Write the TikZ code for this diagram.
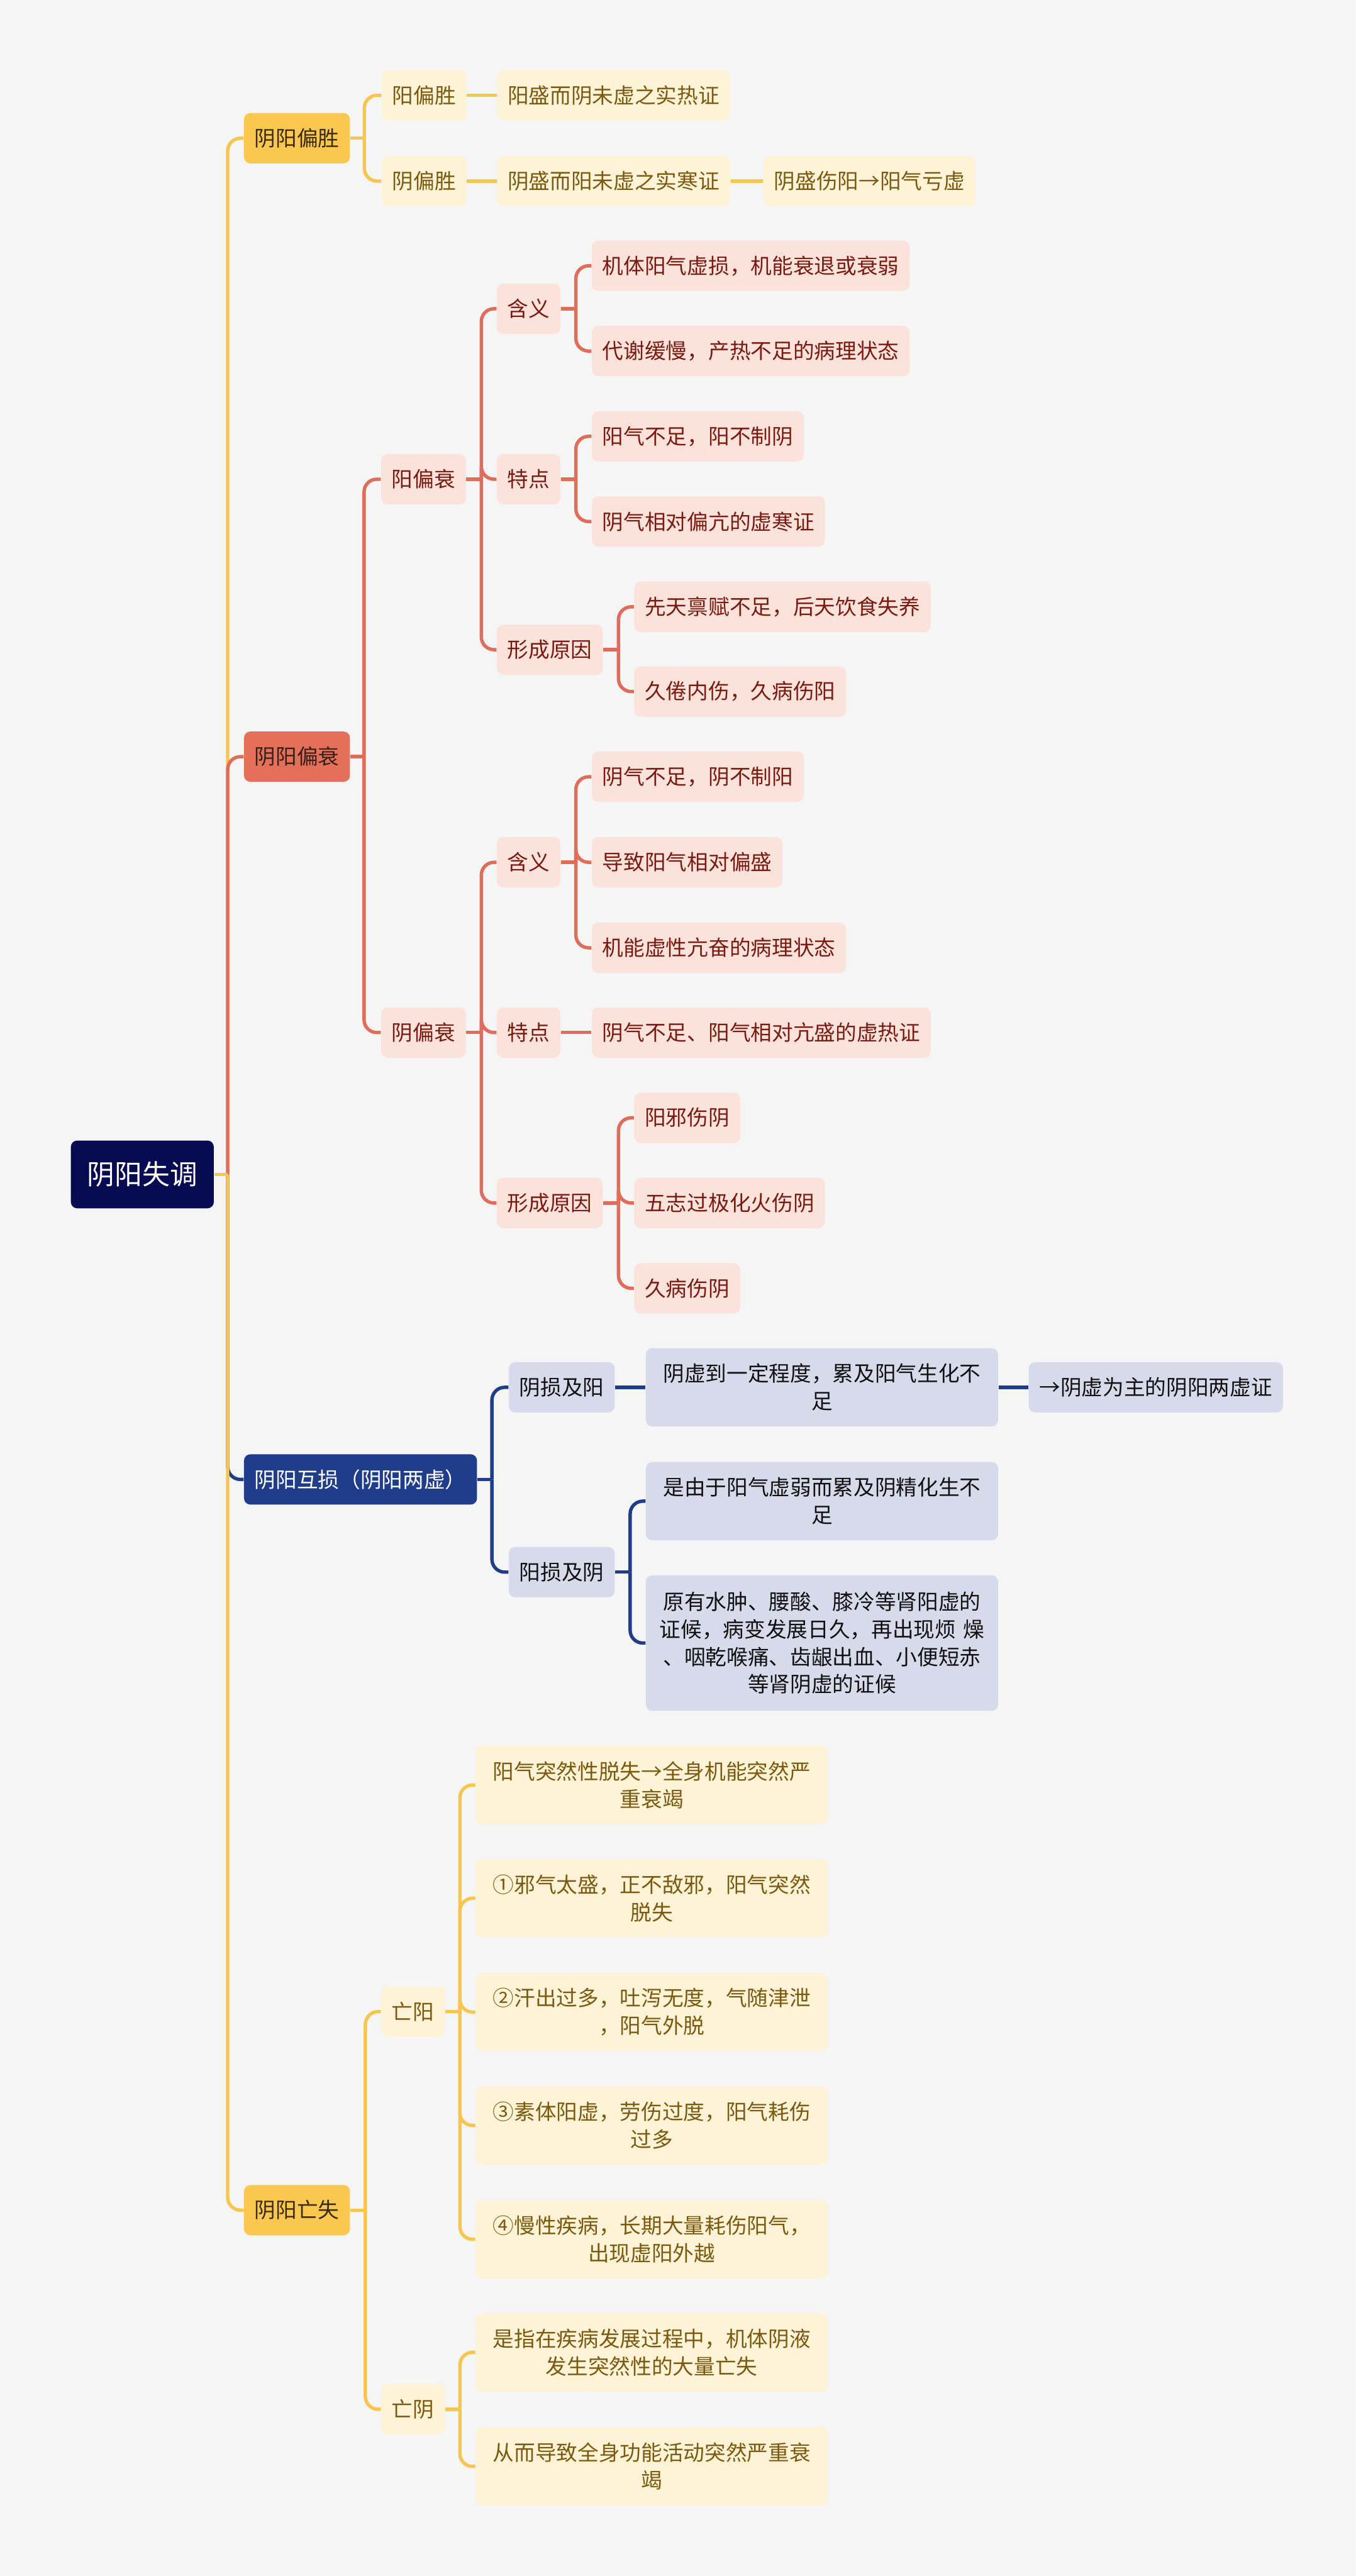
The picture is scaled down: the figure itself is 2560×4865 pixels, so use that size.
\documentclass[tikz,border=0pt]{standalone}
\usepackage{fontspec}
\newfontfamily\cjk{Noto Sans CJK SC}
\definecolor{bg}{HTML}{F5F5F5}
\definecolor{rootfill}{HTML}{070B52}
\definecolor{ylfill}{HTML}{FBC84F}
\definecolor{yltext}{HTML}{3A2A10}
\definecolor{crfill}{HTML}{FEF3D6}
\definecolor{crtext}{HTML}{7B5A10}
\definecolor{ylline}{HTML}{F8C64F}
\definecolor{rdfill}{HTML}{E4705A}
\definecolor{rdtext}{HTML}{3A1E1A}
\definecolor{pkfill}{HTML}{FBE3DC}
\definecolor{pktext}{HTML}{7A1A10}
\definecolor{rdline}{HTML}{E06D5A}
\definecolor{nvfill}{HTML}{1F3D8A}
\definecolor{lnfill}{HTML}{D6DAEA}
\definecolor{lntext}{HTML}{111111}
\definecolor{nvline}{HTML}{1F3D8A}
\tikzset{
  base/.style={rounded corners=3pt, inner xsep=5pt, inner ysep=0pt, minimum height=23.75pt,
    anchor=west, font=\cjk\fontsize{10pt}{13pt}\selectfont, align=center},
  rootbox/.style={base, fill=rootfill, text=white, minimum width=67.5pt, minimum height=32pt,
    font=\cjk\fontsize{13pt}{16pt}\selectfont},
  yone/.style={base, fill=ylfill, text=yltext},
  ytwo/.style={base, fill=crfill, text=crtext},
  rone/.style={base, fill=rdfill, text=rdtext},
  rtwo/.style={base, fill=pkfill, text=pktext},
  none/.style={base, fill=nvfill, text=white},
  ntwo/.style={base, fill=lnfill, text=lntext},
  twol/.style={text width=156.25pt, minimum height=37pt},
  fourl/.style={text width=156.25pt, minimum height=64pt},
  yln/.style={draw=ylline, line width=1.6pt, rounded corners=6pt},
  rln/.style={draw=rdline, line width=1.6pt, rounded corners=6pt},
  nln/.style={draw=nvline, line width=1.6pt, rounded corners=6pt}
}
\begin{document}
\begin{tikzpicture}[x=0.25pt, y=-0.25pt]
\fill[bg] (0,0) rectangle (2560,4865);
\useasboundingbox (0,0) rectangle (2560,4865);

% root
\node[rootbox] (root) at (133,2218) {阴阳失调};

% level 1
\node[yone] (A) at (460,261) {阴阳偏胜};
\node[rone] (B) at (460,1429) {阴阳偏衰};
\node[none] (C) at (460,2794) {阴阳互损（阴阳两虚）};
\node[yone] (D) at (460,4174) {阴阳亡失};

% A branch
\node[ytwo] (A1) at (720,180) {阳偏胜};
\node[ytwo] (A2) at (720,342) {阴偏胜};
\node[ytwo] (A1x) at (938,180) {阳盛而阴未虚之实热证};
\node[ytwo] (A2x) at (938,342) {阴盛而阳未虚之实寒证};
\node[ytwo] (A2y) at (1441,342) {阴盛伤阳→阳气亏虚};

% B branch
\node[rtwo] (B1) at (719,905) {阳偏衰};
\node[rtwo] (B2) at (719,1950) {阴偏衰};
\node[rtwo] (B1a) at (937.5,583) {含义};
\node[rtwo] (B1b) at (937.5,905) {特点};
\node[rtwo] (B1c) at (937.5,1227) {形成原因};
\node[rtwo] (B1a1) at (1117,502) {机体阳气虚损，机能衰退或衰弱};
\node[rtwo] (B1a2) at (1117,663) {代谢缓慢，产热不足的病理状态};
\node[rtwo] (B1b1) at (1117,824) {阳气不足，阳不制阴};
\node[rtwo] (B1b2) at (1117,985) {阴气相对偏亢的虚寒证};
\node[rtwo] (B1c1) at (1197,1146) {先天禀赋不足，后天饮食失养};
\node[rtwo] (B1c2) at (1197,1306) {久倦内伤，久病伤阳};
\node[rtwo] (B2a) at (937.5,1628.5) {含义};
\node[rtwo] (B2b) at (937.5,1950) {特点};
\node[rtwo] (B2c) at (937.5,2272) {形成原因};
\node[rtwo] (B2a1) at (1117,1467) {阴气不足，阴不制阳};
\node[rtwo] (B2a2) at (1117,1628.5) {导致阳气相对偏盛};
\node[rtwo] (B2a3) at (1117,1790) {机能虚性亢奋的病理状态};
\node[rtwo] (B2b1) at (1117,1950) {阴气不足、阳气相对亢盛的虚热证};
\node[rtwo] (B2c1) at (1197,2111) {阳邪伤阴};
\node[rtwo] (B2c2) at (1197,2272) {五志过极化火伤阴};
\node[rtwo] (B2c3) at (1197,2433) {久病伤阴};

% C branch
\node[ntwo] (C1) at (960,2620) {阴损及阳};
\node[ntwo] (C2) at (960,2969) {阳损及阴};
\node[ntwo, twol] (C1a) at (1219,2620) {阴虚到一定程度，累及阳气生化不\\足};
\node[ntwo] (C1b) at (1942,2620) {→阴虚为主的阴阳两虚证};
\node[ntwo, twol] (C2a) at (1219,2835) {是由于阳气虚弱而累及阴精化生不\\足};
\node[ntwo, fourl] (C2b) at (1219,3103) {原有水肿、腰酸、膝冷等肾阳虚的\\证候，病变发展日久，再出现烦 燥\\、咽乾喉痛、齿龈出血、小便短赤\\等肾阴虚的证候};

% D branch
\node[ytwo] (D1) at (719,3799) {亡阳};
\node[ytwo] (D2) at (719,4550) {亡阴};
\node[ytwo, twol] (D1a) at (897.5,3371) {阳气突然性脱失→全身机能突然严\\重衰竭};
\node[ytwo, twol] (D1b) at (897.5,3585) {①邪气太盛，正不敌邪，阳气突然\\脱失};
\node[ytwo, twol] (D1c) at (897.5,3800) {②汗出过多，吐泻无度，气随津泄\\，阳气外脱};
\node[ytwo, twol] (D1d) at (897.5,4014) {③素体阳虚，劳伤过度，阳气耗伤\\过多};
\node[ytwo, twol] (D1e) at (897.5,4229) {④慢性疾病，长期大量耗伤阳气，\\出现虚阳外越};
\node[ytwo, twol] (D2a) at (897.5,4442.5) {是指在疾病发展过程中，机体阴液\\发生突然性的大量亡失};
\node[ytwo, twol] (D2b) at (897.5,4658) {从而导致全身功能活动突然严重衰\\竭};

% ---- connectors ----
% trunk, in order A,B,C,D
\draw[yln] (430,2218) |- (A.west);
\draw[rln] (430,2218) |- (B.west);
\draw[nln] (430,2218) |- (C.west);
\draw[yln] (430,2218) |- (D.west);
\draw[yln] (root.east) -- (430,2218);

% A
\draw[yln] (A.east) -- (688,261);
\draw[yln] (688,261) |- (A1.west);
\draw[yln] (688,261) |- (A2.west);
\draw[yln] (A1.east) -- (A1x.west);
\draw[yln] (A2.east) -- (A2x.west);
\draw[yln] (A2x.east) -- (A2y.west);

% B
\draw[rln] (B.east) -- (687.5,1429);
\draw[rln] (687.5,1429) |- (B1.west);
\draw[rln] (687.5,1429) |- (B2.west);
\draw[rln] (B1.east) -- (909,905);
\draw[rln] (909,905) |- (B1a.west);
\draw[rln] (909,905) |- (B1b.west);
\draw[rln] (909,905) |- (B1c.west);
\draw[rln] (B1a.east) -- (1087.5,583);
\draw[rln] (1087.5,583) |- (B1a1.west);
\draw[rln] (1087.5,583) |- (B1a2.west);
\draw[rln] (B1b.east) -- (1087.5,905);
\draw[rln] (1087.5,905) |- (B1b1.west);
\draw[rln] (1087.5,905) |- (B1b2.west);
\draw[rln] (B1c.east) -- (1168,1227);
\draw[rln] (1168,1227) |- (B1c1.west);
\draw[rln] (1168,1227) |- (B1c2.west);
\draw[rln] (B2.east) -- (909,1950);
\draw[rln] (909,1950) |- (B2a.west);
\draw[rln] (909,1950) |- (B2b.west);
\draw[rln] (909,1950) |- (B2c.west);
\draw[rln] (B2a.east) -- (1087.5,1628.5);
\draw[rln] (1087.5,1628.5) |- (B2a1.west);
\draw[rln] (1087.5,1628.5) |- (B2a2.west);
\draw[rln] (1087.5,1628.5) |- (B2a3.west);
\draw[rln] (B2b.east) -- (B2b1.west);
\draw[rln] (B2c.east) -- (1168,2272);
\draw[rln] (1168,2272) |- (B2c1.west);
\draw[rln] (1168,2272) |- (B2c2.west);
\draw[rln] (1168,2272) |- (B2c3.west);

% C
\draw[nln] (C.east) -- (929,2794);
\draw[nln] (929,2794) |- (C1.west);
\draw[nln] (929,2794) |- (C2.west);
\draw[nln] (C1.east) -- (C1a.west);
\draw[nln] (C1a.east) -- (C1b.west);
\draw[nln] (C2.east) -- (1190,2969);
\draw[nln] (1190,2969) |- (C2a.west);
\draw[nln] (1190,2969) |- (C2b.west);

% D
\draw[yln] (D.east) -- (690,4174);
\draw[yln] (690,4174) |- (D1.west);
\draw[yln] (690,4174) |- (D2.west);
\draw[yln] (D1.east) -- (868.5,3799);
\draw[yln] (868.5,3799) |- (D1a.west);
\draw[yln] (868.5,3799) |- (D1b.west);
\draw[yln] (868.5,3799) |- (D1c.west);
\draw[yln] (868.5,3799) |- (D1d.west);
\draw[yln] (868.5,3799) |- (D1e.west);
\draw[yln] (D2.east) -- (868.5,4550);
\draw[yln] (868.5,4550) |- (D2a.west);
\draw[yln] (868.5,4550) |- (D2b.west);
\end{tikzpicture}
\end{document}
